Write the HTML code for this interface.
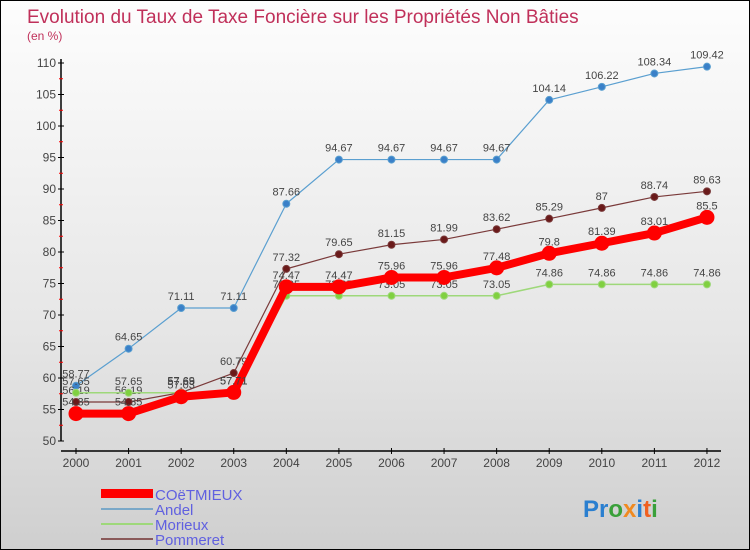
<!DOCTYPE html>
<html><head><meta charset="utf-8"><style>
body{margin:0}
#c{width:750px;height:550px;position:relative;overflow:hidden;border:1px solid #000;box-sizing:border-box;background:linear-gradient(#fdfdfd,#e6e6e6 60%,#cfcfcf);font-family:"Liberation Sans",sans-serif}
</style></head><body>
<div id="c">
<svg id="s" width="750" height="550" style="position:absolute;left:0;top:0">
<text x="26" y="22" font-size="19" fill="#c0305a">Evolution du Taux de Taxe Foncière sur les Propriétés Non Bâties</text>
<text x="26" y="39" font-size="12" fill="#c0305a">(en %)</text>
<g id="axes"></g><g id="series"></g>
<g>
<rect x="100" y="488" width="52" height="9" fill="#f00"/>
<line x1="100" y1="508" x2="152" y2="508" stroke="#7aa8c8" stroke-width="2"/>
<line x1="100" y1="523" x2="152" y2="523" stroke="#9ed87a" stroke-width="2"/>
<line x1="100" y1="538" x2="152" y2="538" stroke="#8a5a5a" stroke-width="2"/>
<text x="154" y="499" font-size="15" fill="#6060e0">COëTMIEUX</text>
<text x="154" y="514" font-size="15" fill="#6060e0">Andel</text>
<text x="154" y="529" font-size="15" fill="#6060e0">Morieux</text>
<text x="154" y="544" font-size="15" fill="#6060e0">Pommeret</text>
</g>
<text x="582" y="516" font-size="24" font-weight="bold"><tspan fill="#2a7fd0">Pr</tspan><tspan fill="#3aa03a">o</tspan><tspan fill="#f08a20">x</tspan><tspan fill="#2a7fd0">i</tspan><tspan fill="#f06020">t</tspan><tspan fill="#3aa03a">i</tspan></text>
</svg>
</div>
<script>
const years=[2000,2001,2002,2003,2004,2005,2006,2007,2008,2009,2010,2011,2012];
const coetmieux=[54.35,54.35,57.03,57.71,74.47,74.47,75.96,75.96,77.48,79.8,81.39,83.01,85.5];
const andel=[58.77,64.65,71.11,71.11,87.66,94.67,94.67,94.67,94.67,104.14,106.22,108.34,109.42];
const morieux=[57.65,57.65,57.65,57.71,73.05,73.05,73.05,73.05,73.05,74.86,74.86,74.86,74.86];
const pommeret=[56.19,56.19,57.69,60.79,77.32,79.65,81.15,81.99,83.62,85.29,87,88.74,89.63];
const yTicks=[50,55,60,65,70,75,80,85,90,95,100,105,110];
const NS='http://www.w3.org/2000/svg';
const xs=i=>75+i*52.58, ys=v=>440-(v-50)*6.3;
function mk(t,a,p){const e=document.createElementNS(NS,t);for(const k in a)e.setAttribute(k,a[k]);p.appendChild(e);return e;}
const ax=document.getElementById('axes'),sg=document.getElementById('series');
let l=mk('line',{x1:60,y1:58,x2:60,y2:440,stroke:'#000','stroke-width':1.5},ax);

l=mk('line',{x1:60,y1:450,x2:720,y2:450,stroke:'#000','stroke-width':1.5},ax);

yTicks.forEach(v=>{const y=ys(v);mk('line',{x1:57,y1:y,x2:63,y2:y,stroke:'#000'},ax);
if(v<110)mk('line',{x1:58,y1:y-15.75,x2:62,y2:y-15.75,stroke:'#f00'},ax);
const t=mk('text',{x:55,y:y+4,'font-size':12,fill:'#444','text-anchor':'end'},ax);t.textContent=v;
});
years.forEach((yr,i)=>{const x=xs(i);mk('line',{x1:x,y1:447,x2:x,y2:453,stroke:'#000'},ax);
const t=mk('text',{x:x,y:466,'font-size':12,fill:'#444','text-anchor':'middle'},ax);t.textContent=yr;
});
function series(d,name,col,w,r,dot){const g=mk('g',{},sg);
mk('polyline',{points:d.map((v,i)=>xs(i)+','+ys(v)).join(' '),fill:'none',stroke:col,'stroke-width':w,'stroke-linejoin':'round'},g);
d.forEach((v,i)=>{const c=mk('circle',{cx:xs(i),cy:ys(v),r:r,fill:dot,stroke:col,'stroke-width':1},g);

const t=mk('text',{x:xs(i),y:ys(v)-8,'font-size':11,fill:'#444','text-anchor':'middle'},g);t.textContent=String(v).replace('.',',').replace(',','.');
});}
series(andel,'andel','#5a9fd0',1.2,3.5,'#3a80c8');
series(pommeret,'pommeret','#7a3a3a',1.2,3.5,'#6a1a1a');
series(morieux,'morieux','#9ed87a',1.5,3.5,'#80d040');
series(coetmieux,'coetmieux','#f00',8,7,'#f00');
</script>
</body></html>
